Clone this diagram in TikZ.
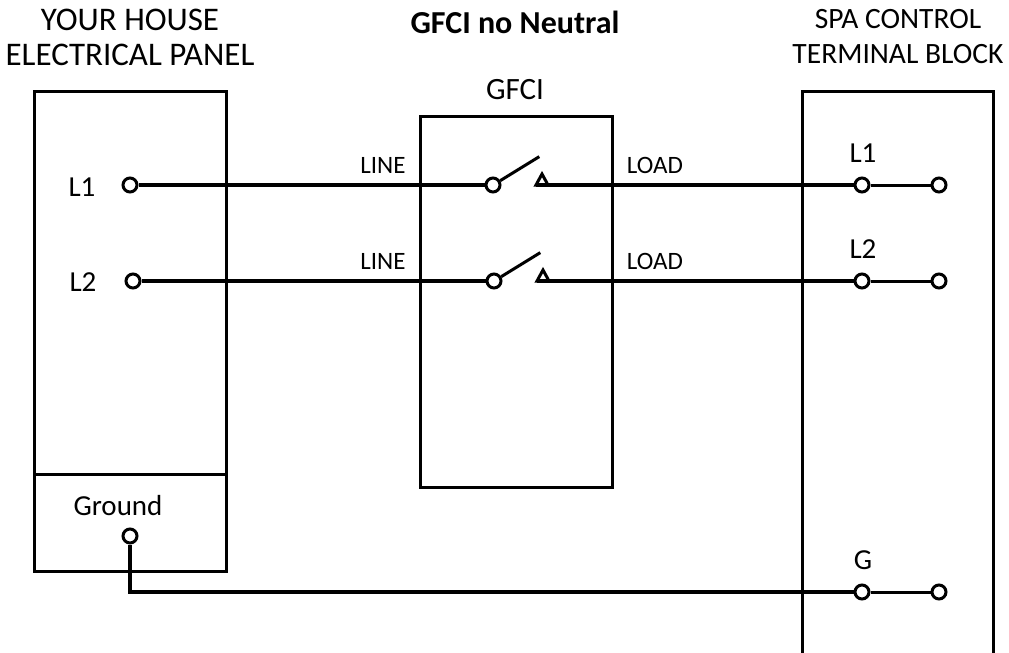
\documentclass[tikz,border=0pt]{standalone}
\usepackage{fontspec}
\setmainfont{Carlito}
\usetikzlibrary{calc}
\tikzset{
  box/.style={draw=black, line width=3pt},
  wire/.style={draw=black, line width=4pt},
  lead/.style={draw=black, line width=3pt},
  term/.style={circle, draw=black, fill=white, line width=3pt, minimum size=14pt, inner sep=0pt},
  lab/.style={font=\fontsize{29}{34}\selectfont},
  labs/.style={font=\fontsize{25}{30}\selectfont},
  head/.style={font=\fontsize{31}{35}\selectfont, align=center}
}
% pivot, blade and contact of one pole
\newcommand{\PoleAt}[3]{%
  \node[term] (#1p) at (#2,#3) {};
  \draw[lead] (#1p.31) -- ++(39,-24);
  \draw[lead, fill=white, line join=miter] (#2+43,#3) -- (#2+49,#3-11) -- (#2+55,#3) -- cycle;
  \coordinate (#1c) at (#2+43,#3);
}

\begin{document}
\begin{tikzpicture}[x=1pt, y=-1pt]
  \useasboundingbox (0,0) rectangle (1009,653);
  \clip (0,0) rectangle (1009,653);

  % boxes
  \draw[box] (34,91) rectangle (226,571);
  \draw[box] (34,474) -- (226,474);
  \draw[box] (420,116) rectangle (612,487);
  \draw[box] (802,91) rectangle (993,680);

  % headings
  \node[head, font=\fontsize{33}{35}\selectfont] (panelT) at (130,37) {YOUR HOUSE\\ELECTRICAL PANEL};
  \node[head, font=\fontsize{32}{35}\bfseries] (title) at (515,22) {GFCI no Neutral};
  \node[head] (gfciT) at (515,90) {GFCI};
  \node[head, font=\fontsize{29.5}{35}\selectfont] (spaT) at (898,37) {SPA CONTROL\\TERMINAL BLOCK};

  % panel terminals
  \node[term] (pL1) at (130,185) {};
  \node[term] (pL2) at (133,281) {};
  \node[term] (pG) at (130,536) {};
  \node[lab] at (82,187) {L1};
  \node[lab] at (83,282) {L2};
  \node[lab] at (118,506) {Ground};

  % switch poles
  \PoleAt{s1}{493}{185}
  \PoleAt{s2}{494}{281}
  \node[labs] at (383,165) {LINE};
  \node[labs] at (655,165) {LOAD};
  \node[labs] at (383,261) {LINE};
  \node[labs] at (655,261) {LOAD};

  % spa terminals
  \node[term] (tL1a) at (862,185) {};
  \node[term] (tL1b) at (939,185) {};
  \node[term] (tL2a) at (862,281) {};
  \node[term] (tL2b) at (939,281) {};
  \node[term] (tGa) at (862,592) {};
  \node[term] (tGb) at (939,592) {};
  \node[lab] at (863,153) {L1};
  \node[lab] at (863,249) {L2};
  \node[lab] at (863,560) {G};

  % wiring
  \draw[wire] (pL1) -- (s1p);
  \draw[wire] (s1c) -- (tL1a);
  \draw[lead] (tL1a) -- (tL1b);
  \draw[wire] (pL2) -- (s2p);
  \draw[wire] (s2c) -- (tL2a);
  \draw[lead] (tL2a) -- (tL2b);
  \draw[wire] (pG) |- (tGa);
  \draw[lead] (tGa) -- (tGb);
\end{tikzpicture}
\end{document}
